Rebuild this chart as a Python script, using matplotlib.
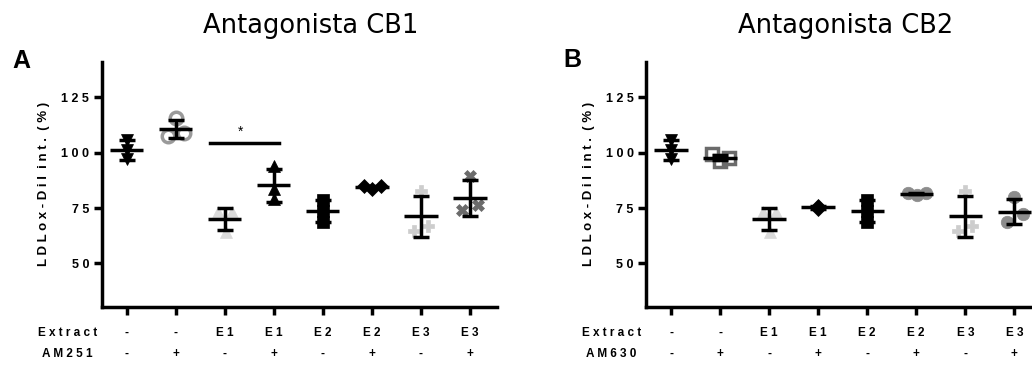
import numpy as np
import matplotlib
matplotlib.use('Agg')
from matplotlib import pyplot as plt

# groups along x
extract_labels = ['-', '-', 'E1', 'E1', 'E2', 'E2', 'E3', 'E3']
antag_labels = ['-', '+', '-', '+', '-', '+', '-', '+']

# panel A: CB1 antagonist (AM251)
cb1_points = [[105.5, 101.0, 97.0], [115.7, 107.5, 109.0], [73.1, 73.1, 64.2],
              [94.0, 83.5, 79.0], [78.5, 73.5, 68.5], [85.0, 83.5, 85.0],
              [82.8, 64.8, 66.8], [89.5, 74.2, 76.3]]
cb1_jitter = [[0, 0, 0], [0, -0.15, 0.16], [-0.13, 0.15, 0.02], [0, 0, 0],
              [0, 0, 0], [-0.17, 0, 0.18], [0, -0.15, 0.14], [0, -0.16, 0.16]]
cb1_means = [101.2, 110.5, 70.0, 85.2, 73.6, 84.5, 71.3, 79.7]
cb1_errs = [4.4, 4.1, 4.9, 7.5, 4.9, 0.5, 9.3, 8.1]

# panel B: CB2 antagonist (AM630)
cb2_points = [[105.5, 101.0, 97.0], [99.5, 96.3, 97.5], [73.1, 73.1, 64.2],
              [76.0, 75.3, 74.5], [78.5, 73.5, 68.5], [82.0, 81.0, 81.8],
              [82.8, 64.8, 66.8], [80.2, 72.3, 68.6]]
cb2_jitter = [[0, 0, 0], [-0.16, 0, 0.18], [-0.13, 0.15, 0.02], [0, 0, 0],
              [0, 0, 0], [-0.16, 0.02, 0.2], [0, -0.15, 0.14], [0, 0.18, -0.14]]
cb2_means = [101.2, 97.7, 70.0, 75.3, 73.6, 81.5, 71.3, 73.4]
cb2_errs = [4.4, 1.0, 4.9, 0.8, 4.9, 0.3, 9.3, 5.6]

# significance E1- vs E1+ in panel A
sig_span = [1.7, 3.1]
sig_level = 104.3

# marker styles
cb1_markers = ['v', 'o', '^', '^', 's', 'D', 'P', 'X']
cb1_colors = ['black', '#9a9a9a', '#dadada', 'black', 'black', 'black', '#cdcdcd', '#6b6b6b']
cb1_filled = [True, False, True, True, True, True, True, True]
cb2_markers = ['v', 's', '^', 'D', 's', 'o', 'P', 'o']
cb2_colors = ['black', '#6b6b6b', '#dadada', 'black', 'black', '#8c8c8c', '#cdcdcd', '#8c8c8c']
cb2_filled = [True, False, True, True, True, True, True, True]
msize = {'v': 9, '^': 9, 'o': 9, 's': 8, 'D': 7, 'P': 9, 'X': 9}

FONT = 'Liberation Sans'
LW = 2.5


def spaced(s):
    # prism-like letter spacing
    return '  '.join(' '.join(w) for w in s.split(' '))


def draw_panel(ax, points, jitter, means, errs, markers, colors, filled, antag_name):
    x = np.arange(len(means))
    for i in range(len(points)):
        m = markers[i]
        ax.plot(i + np.array(jitter[i]), points[i], linestyle='none', marker=m,
                ms=msize[m], mfc=colors[i] if filled[i] else 'none', mec=colors[i],
                mew=0.5 if filled[i] else 2.5, zorder=2)
    ax.errorbar(x, means, yerr=errs, fmt='none', ecolor='black', elinewidth=LW,
                capsize=6, capthick=LW, zorder=3)
    ax.hlines(means, x - 0.34, x + 0.34, color='black', lw=LW, zorder=3)

    ax.set_xlim(-0.51, 7.55)
    ax.set_ylim(30.5, 141)
    ax.set_yticks([50, 75, 100, 125])
    ax.set_yticklabels([spaced(str(v)) for v in [50, 75, 100, 125]],
                       fontfamily=FONT, fontweight='bold', fontsize=9)
    ax.set_xticks(x)
    ax.set_xticklabels([])
    for s in ['top', 'right']:
        ax.spines[s].set_visible(False)
    for s in ['left', 'bottom']:
        ax.spines[s].set_linewidth(LW)
    ax.tick_params(direction='out', length=6, width=LW, pad=3)

    tr = ax.get_xaxis_transform()
    for i in range(len(x)):
        ax.text(i, -0.12, spaced(extract_labels[i]), transform=tr, ha='center',
                va='baseline', fontfamily=FONT, fontweight='bold', fontsize=8.5)
        ax.text(i, -0.205, spaced(antag_labels[i]), transform=tr, ha='center',
                va='baseline', fontfamily=FONT, fontweight='bold', fontsize=8.5)
    ax.text(-0.087, -0.12, spaced('Extract'), transform=ax.transAxes, ha='center',
            va='baseline', fontfamily=FONT, fontweight='bold', fontsize=8.5)
    ax.text(-0.087, -0.205, spaced(antag_name), transform=ax.transAxes, ha='center',
            va='baseline', fontfamily=FONT, fontweight='bold', fontsize=8.5)
    ax.text(-0.145, 0.5, spaced('LDLox-DiI int. (%)'), transform=ax.transAxes,
            rotation=90, ha='center', va='center', fontfamily=FONT,
            fontweight='bold', fontsize=9.5)


fig = plt.figure(figsize=(10.32, 3.65), dpi=100)
ax1 = fig.add_axes([0.0985, 0.1597, 0.383, 0.6713])
ax2 = fig.add_axes([0.626, 0.1597, 0.383, 0.6713])

draw_panel(ax1, cb1_points, cb1_jitter, cb1_means, cb1_errs,
           cb1_markers, cb1_colors, cb1_filled, 'AM251')
draw_panel(ax2, cb2_points, cb2_jitter, cb2_means, cb2_errs,
           cb2_markers, cb2_colors, cb2_filled, 'AM630')

ax1.plot(sig_span, [sig_level, sig_level], color='black', lw=LW)
ax1.text(2.33, sig_level + 2.0, '*', ha='center', va='bottom',
         fontfamily=FONT, fontsize=10)

fig.text(311 / 1032, 1 - 33 / 365, 'Antagonista CB1', ha='center', va='baseline',
         fontfamily='DejaVu Sans', fontsize=18.5)
fig.text(846 / 1032, 1 - 33 / 365, 'Antagonista CB2', ha='center', va='baseline',
         fontfamily='DejaVu Sans', fontsize=18.5)
fig.text(12 / 1032, 1 - 68 / 365, 'A', ha='left', va='baseline',
         fontfamily=FONT, fontweight='bold', fontsize=18)
fig.text(563 / 1032, 1 - 67 / 365, 'B', ha='left', va='baseline',
         fontfamily=FONT, fontweight='bold', fontsize=18)

fig.savefig('out.png', dpi=100)
